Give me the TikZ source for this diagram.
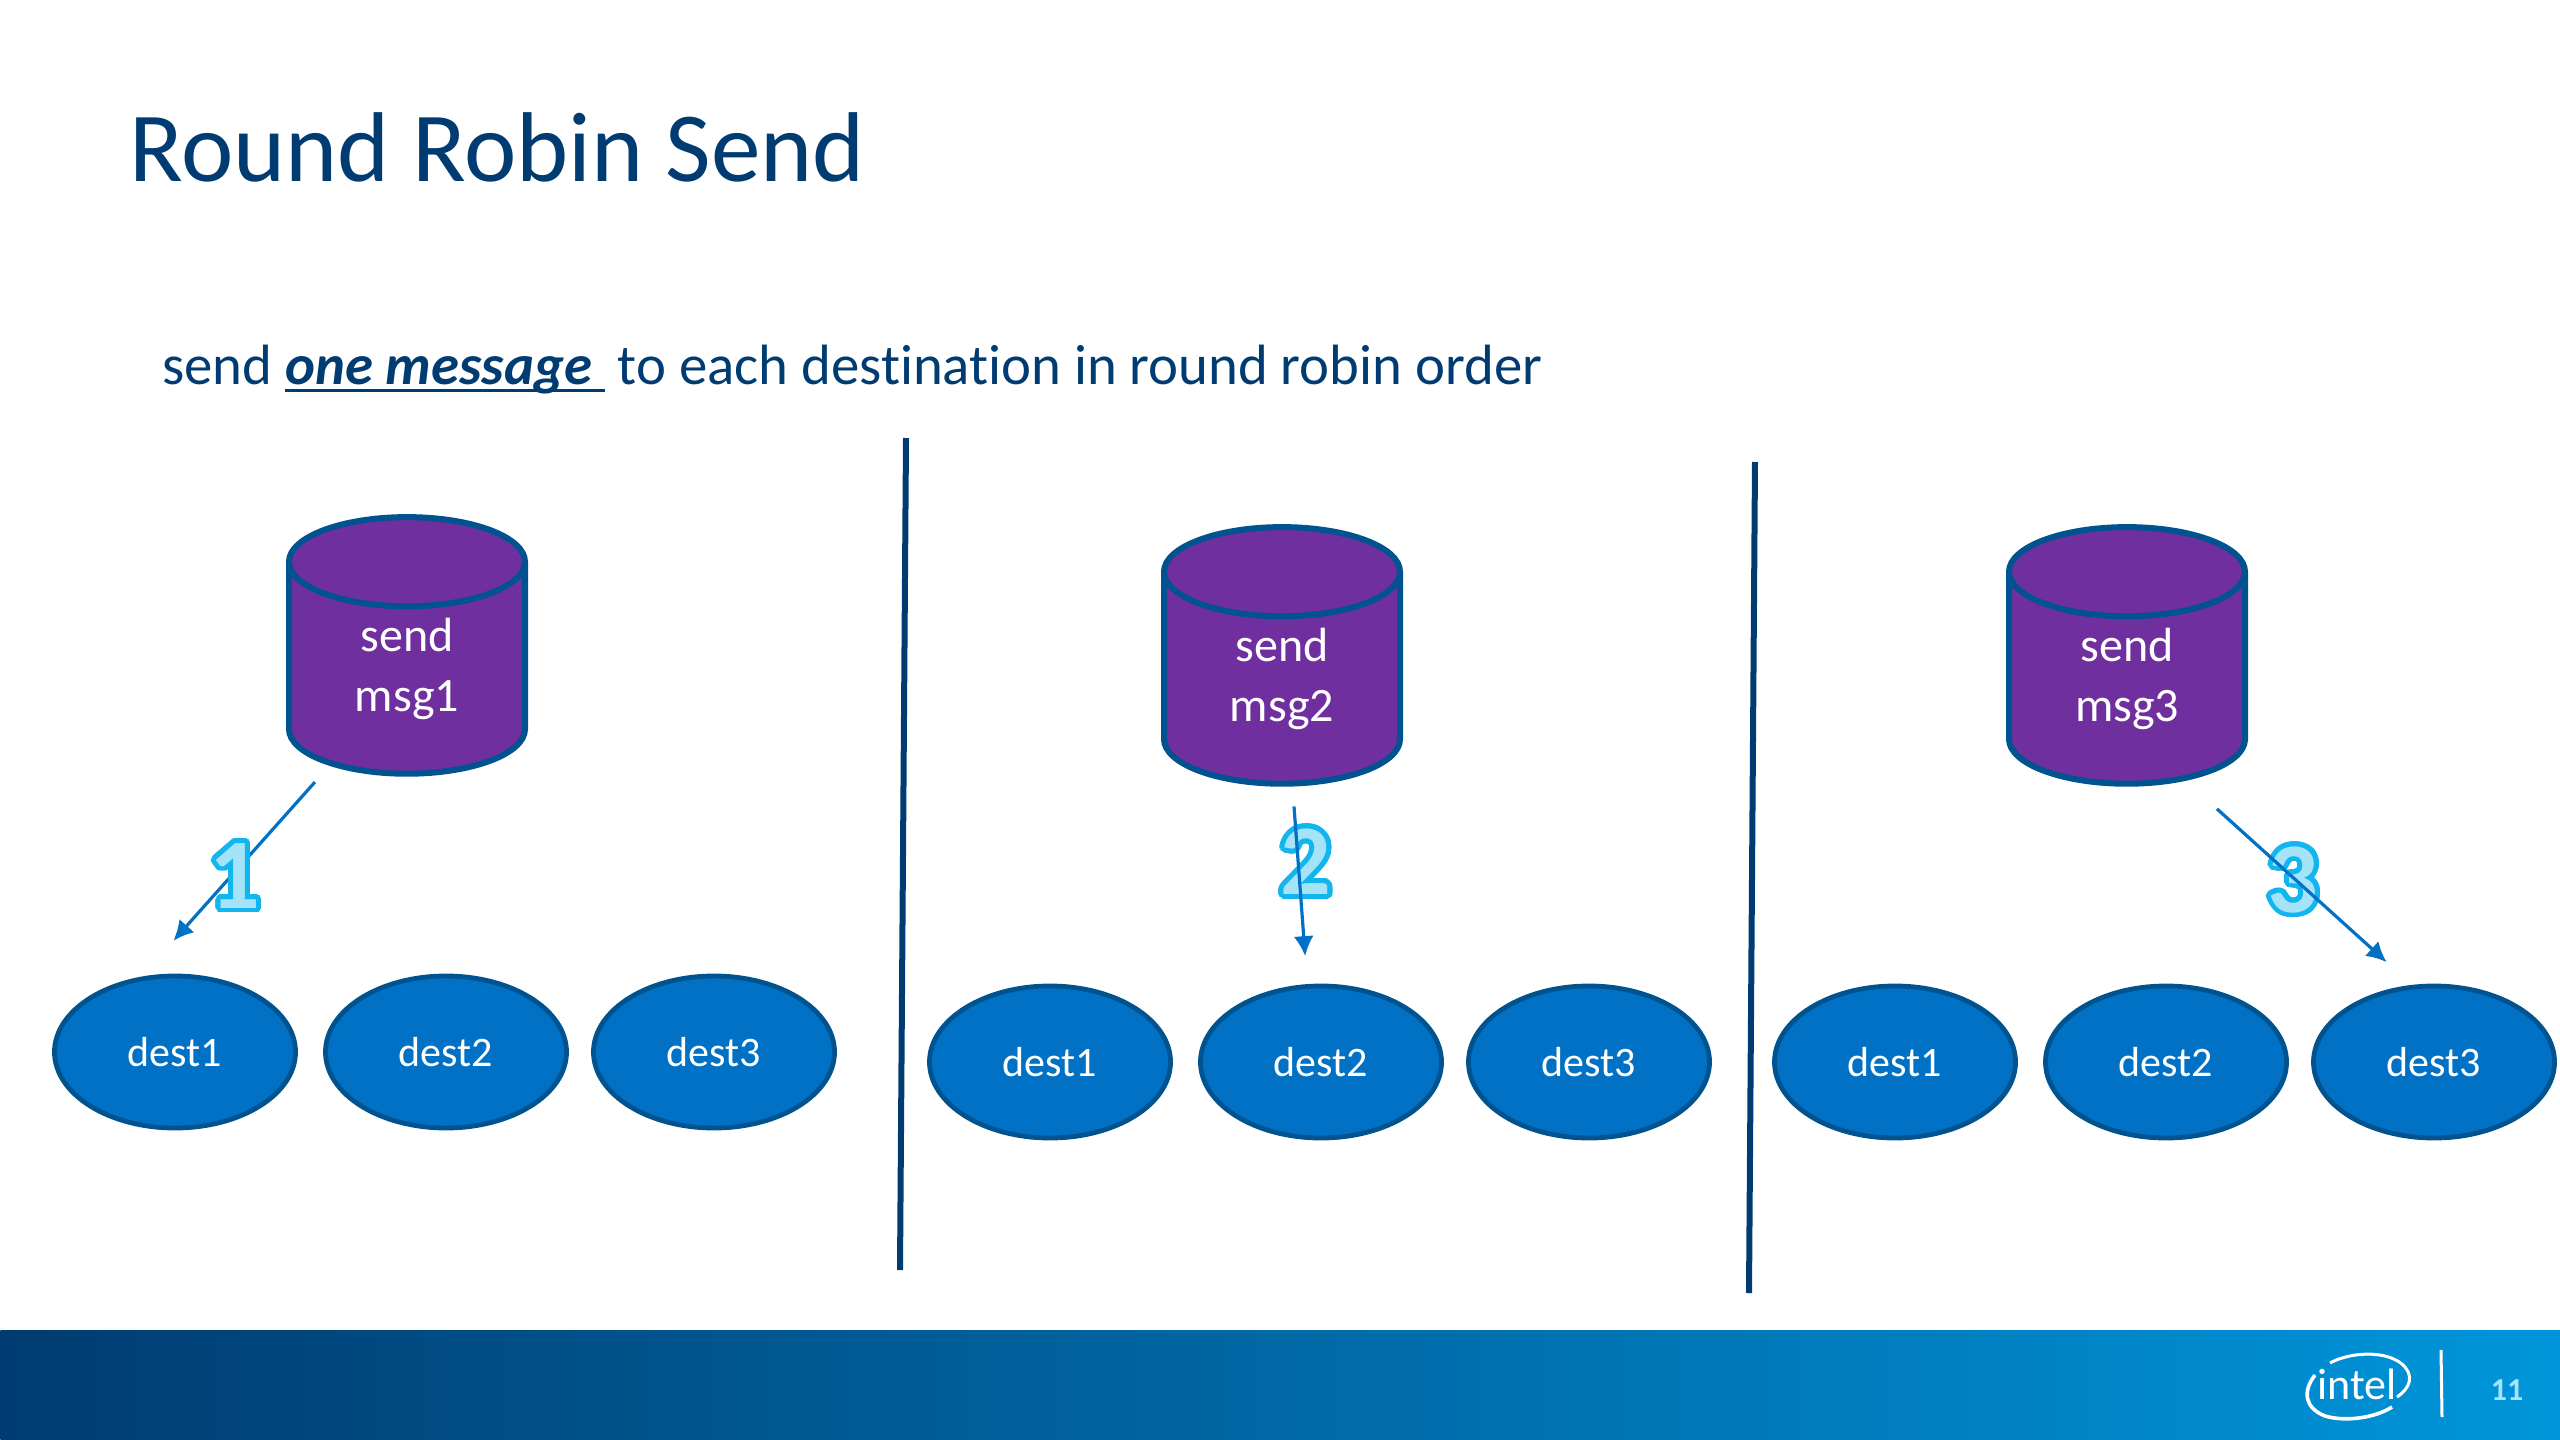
\documentclass[tikz,border=0pt]{standalone}
\usepackage{fontspec}
\setmainfont{Carlito}[Ligatures=NoCommon]
\usepackage[copies]{contour}
\usetikzlibrary{shapes.geometric,arrows.meta}
\definecolor{titleblue}{HTML}{003C71}
\definecolor{destblue}{HTML}{0071C5}
\definecolor{rimblue}{HTML}{00538F}
\definecolor{msgpurple}{HTML}{6F2F9F}
\definecolor{numcyan}{HTML}{12B5EE}
\definecolor{numfill}{HTML}{A5E3F8}
\definecolor{footleft}{HTML}{003C71}
\definecolor{footright}{HTML}{0095DA}
\contournumber{32}
\contourlength{2.4pt}
\def\numeral#1{\contour{numcyan}{\textcolor{numfill}{\fontsize{50}{50}\selectfont\bfseries #1}}}
\def\thickul#1{\setbox0=\hbox{#1}\rlap{\vrule width\wd0 height -2.6pt depth 4pt}\box0 }

\begin{document}
\begin{tikzpicture}[x=0.5pt,y=-0.5pt]
    \tikzstyle{dest}=[draw=rimblue, fill=destblue, ellipse, line width=2.4pt, minimum width=120.5pt, minimum height=76pt, text=white, font=\fontsize{21}{25}\selectfont]
    \tikzstyle{sendmsg}=[draw=rimblue, fill=msgpurple, cylinder, shape border rotate=90, aspect=0.76, line width=3pt, minimum width=118pt, minimum height=128.3pt, text=white, align=center, font=\fontsize{24}{30}\selectfont]
    \tikzstyle{divider}=[draw=titleblue, line width=3pt]
    \tikzstyle{flow}=[-{Latex[length=10pt,width=10pt]}, draw=destblue, line width=1.6pt]

    \useasboundingbox (0,0) rectangle (2560,1440);

    % Draw the footer band
    \node[rectangle, left color=footleft, right color=footright, minimum width=1280pt, minimum height=55pt, inner sep=0pt, anchor=north west] (footer) at (0,1330) {};
    \node[text=white, font=\fontsize{22}{22}\selectfont] (logo) at (2357,1384) {intel};
    \draw[white, line width=1.5pt] (2330,1363) .. controls (2350,1352) and (2385,1350) .. (2402,1364) .. controls (2415,1376) and (2410,1388) .. (2397,1397);
    \draw[white, line width=1.8pt] (2315,1375) .. controls (2302,1392) and (2305,1408) .. (2325,1416) .. controls (2345,1422) and (2375,1418) .. (2392,1407);
    \draw[white, line width=1.5pt] (2441,1350) -- (2442,1417);
    \node[text=numfill, font=\fontsize{16}{16}\selectfont\bfseries] (page) at (2507,1390) {11};

    % Title and subtitle
    \node[anchor=base west, inner sep=0pt, text=titleblue, font=\fontsize{49.6}{50}\selectfont] (title) at (129,181) {Round Robin Send};
    \node[anchor=base west, inner sep=0pt, text=titleblue, font=\fontsize{28.4}{29}\selectfont] (sub) at (162,384) {send \thickul{\textbf{\textit{one message}}~}\ to each destination in round robin order};

    % Draw the two dividers
    \path[divider] (906,438) -- (900,1270);
    \path[divider] (1755,462) -- (1749,1293);

    % Draw each panel: the message and its destinations
    \foreach \name / \dx / \dy in {1/0/0,2/875/10,3/1720/10} {
        \node[sendmsg] (send-\name) at (407+\dx,676.6+\dy) {send\\msg\name\rule[-12pt]{0pt}{1pt}};
        \node[dest] (D\name-1) at (175+\dx,1052+\dy) {dest1};
        \node[dest] (D\name-2) at (446+\dx,1052+\dy) {dest2};
        \node[dest] (D\name-3) at (714+\dx,1052+\dy) {dest3};
    }

    % Numbers under the arrows
    \node[inner sep=0pt] (num-2) at (1306,864) {\numeral{2}};
    \node[inner sep=0pt] (num-3) at (2293,882) {\numeral{3}};

    % One arrow per panel
    \draw[flow, shorten <=11pt, shorten >=24pt] (send-1.229) -- (D1-1.114);
    \draw[flow, shorten <=10pt, shorten >=14pt] (send-2.276) -- (D2-2.100);
    \draw[flow, shorten <=21pt, shorten >=17pt] (send-3.302) -- (D3-3.106);

    \node[inner sep=0pt] (num-1) at (235,878) {\numeral{1}};
\end{tikzpicture}
\end{document}
